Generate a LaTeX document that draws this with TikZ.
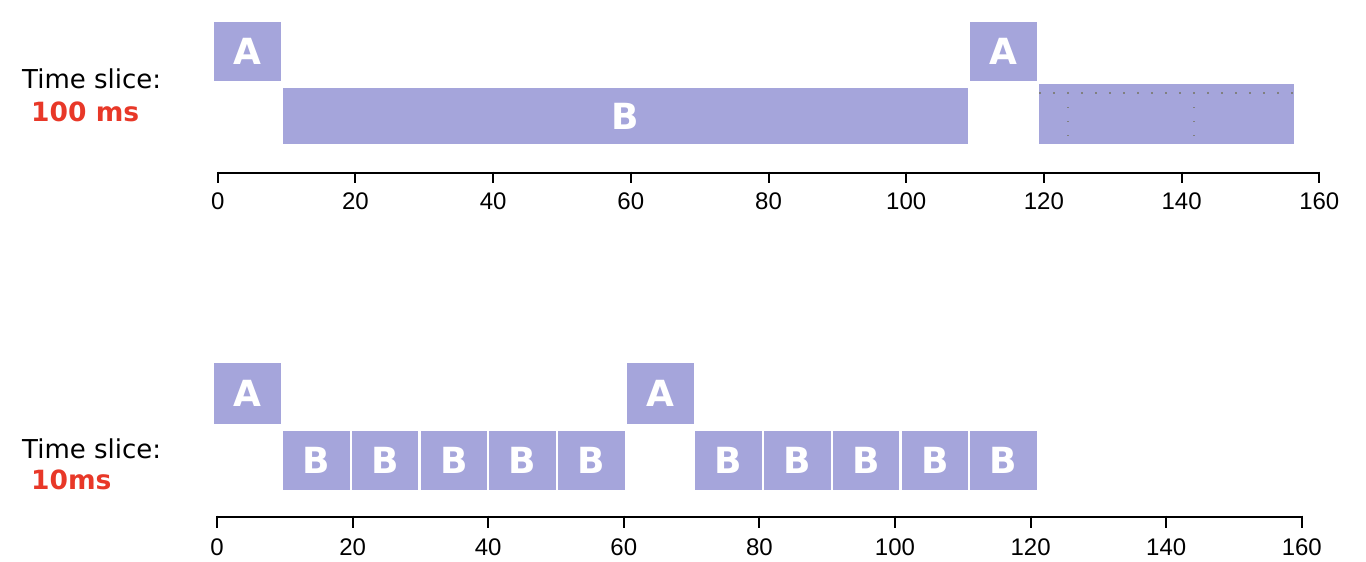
\documentclass[tikz,border=0pt]{standalone}
\usepackage{fontspec}
\newfontfamily\dvs{DejaVu Sans}
\newfontfamily\lib{Liberation Sans}
\definecolor{lav}{RGB}{165,165,219}
\definecolor{slred}{RGB}{232,56,40}
\begin{document}
\begin{tikzpicture}[x=1pt,y=-1pt,
  box/.style={fill=lav, inner sep=0pt, anchor=north west, text=white,
    font=\dvs\bfseries\fontsize{36}{40}\selectfont, text height=26pt, text depth=0pt},
  num/.style={font=\lib\fontsize{24}{27}\selectfont, text height=17pt, text depth=0pt,
    inner sep=0pt, anchor=north},
  lbl/.style={font=\dvs\fontsize{26}{30}\selectfont, anchor=base west, inner sep=0pt},
  msl/.style={font=\dvs\bfseries\fontsize{26.5}{30}\selectfont, text=slred, anchor=base west, inner sep=0pt},
  axisline/.style={line width=2pt},
  dotline/.style={gray, line width=1.3pt, dash pattern=on 1.3pt off 12.7pt}]
\useasboundingbox (0,0) rectangle (1366,562);

% ---------- top panel ----------
\node[lbl] (ts1) at (22,88) {Time slice:};
\node[msl] (v1) at (31,121) {100 ms};

\node[box, minimum width=67pt, minimum height=59pt] (ta1) at (214,22) {A};
\node[box, minimum width=685pt, minimum height=56pt] (tb1) at (283,88) {B};
\node[box, minimum width=67pt, minimum height=59pt] (ta2) at (970,22) {A};
\node[box, minimum width=255pt, minimum height=60pt] (tb2) at (1039,84) {};
\draw[dotline] (1039.4,93) -- (1294,93);
\draw[dotline] (1068,93) -- (1068,136.5);
\draw[dotline] (1194,93) -- (1194,136.5);

\coordinate (tx0) at (217.7,172.5);
\coordinate (tx1) at (1319.3,172.5);
\draw[axisline] (tx0) -- (tx1);
\foreach \i in {0,...,8} {
  \pgfmathsetmacro\xx{217.7+137.7*\i}
  \pgfmathtruncatemacro\lab{20*\i}
  \draw[axisline] (\xx,171.5) -- (\xx,183);
  \node[num] (tl\i) at (\xx,192.5) {\lab};
}

% ---------- bottom panel ----------
\node[lbl] (ts2) at (22,458) {Time slice:};
\node[msl] (v2) at (31,489) {10ms};

\node[box, minimum width=67pt, minimum height=61pt] (ba1) at (214,363) {A};
\node[box, minimum width=67pt, minimum height=61pt] (ba2) at (626.5,363) {A};
\foreach \k in {0,1,2,3,4,6,7,8,9,10} {
  \pgfmathsetmacro\bx{283+68.7*\k}
  \node[box, minimum width=66.5pt, minimum height=59pt] (bb\k) at (\bx,431) {B};
}

\coordinate (bx0) at (217,516.5);
\coordinate (bx1) at (1301.8,516.5);
\draw[axisline] (bx0) -- (bx1);
\foreach \i in {0,...,8} {
  \pgfmathsetmacro\xx{217+135.6*\i}
  \pgfmathtruncatemacro\lab{20*\i}
  \draw[axisline] (\xx,515.5) -- (\xx,528);
  \node[num] (bl\i) at (\xx,538.5) {\lab};
}
\end{tikzpicture}
\end{document}
